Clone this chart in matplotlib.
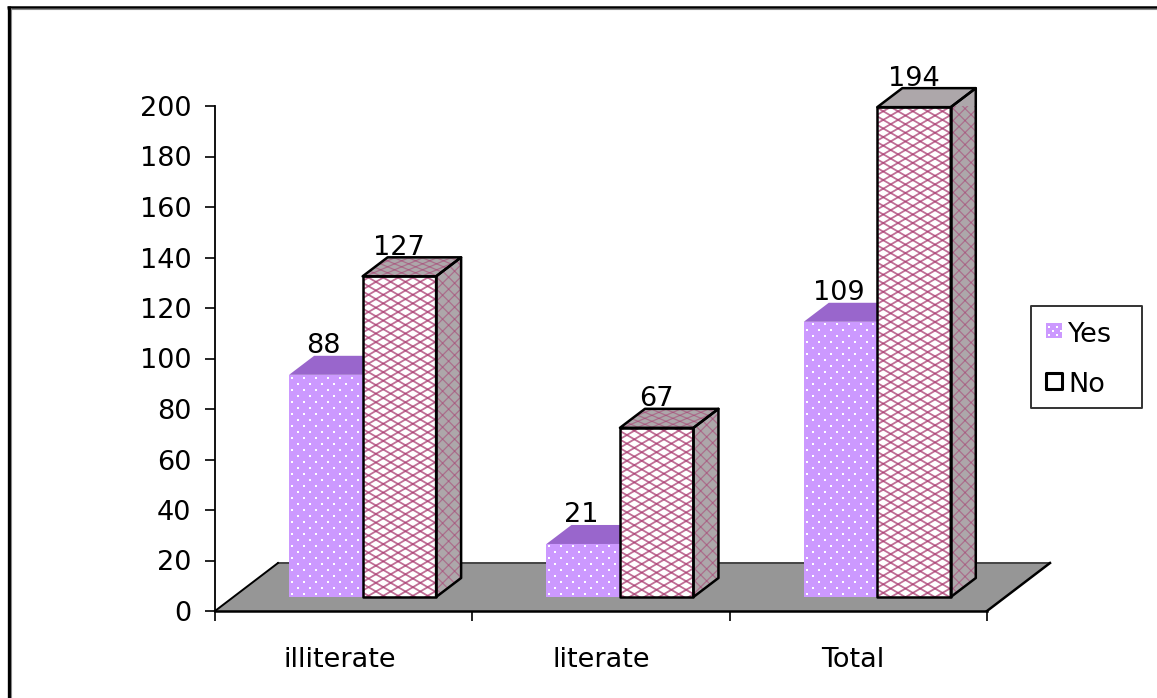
import numpy as np
import matplotlib
matplotlib.use('Agg')
import matplotlib.pyplot as plt
from matplotlib.collections import LineCollection
from matplotlib.lines import Line2D
from matplotlib.patches import Polygon
from matplotlib.transforms import IdentityTransform

plt.rcParams['font.family'] = ['DejaVu Sans']

categories = ['illiterate', 'literate', 'Total']
yes_values = [88, 21, 109]
no_values = [127, 67, 194]
y_ticks = list(range(0, 201, 20))
legend_labels = ['Yes', 'No']

YES_FACE = '#CC99FF'
YES_TOP = '#9966CC'
NO_LINE = '#A8386E'
SHADE = '#ADA7AA'
FLOOR = '#969696'
FONT = 19.5

W, H = 1157, 698
LEFT, RIGHT, TOP, BOTTOM = 215, 987, 106, 611

fig = plt.figure(figsize=(W / 100, H / 100), dpi=100, facecolor='white')
ax = fig.add_axes([LEFT / W, 1 - BOTTOM / H, (RIGHT - LEFT) / W, (BOTTOM - TOP) / H])
ax.set_xlim(0, 3)
ax.set_ylim(0, 200)
ax.patch.set_visible(False)

# size of one pixel in data units, used for the fake 3D depth
px = 3 / (RIGHT - LEFT)
py = 200 / (BOTTOM - TOP)
bar_w = 73.5 * px
bar_off = 0.288
depth_x, depth_y = 25 * px, 19 * py
base = 14 * py


def lattice(poly, dx, dy, color=NO_LINE, lw=1.3, alpha=0.72):
    # diamond mesh, clipped to the polygon
    pts = ax.transData.transform(poly.get_xy())
    x0, x1 = pts[:, 0].min(), pts[:, 0].max()
    y0, y1 = pts[:, 1].min(), pts[:, 1].max()
    slope = dy / dx
    span = (x1 - x0) * slope + (y1 - y0)
    segs = []
    for c in np.arange(-span - 2 * dy, span + 2 * dy, 2 * dy):
        segs.append([(x0, y0 + c), (x1, y0 + c + (x1 - x0) * slope)])
        segs.append([(x0, y1 - c), (x1, y1 - c - (x1 - x0) * slope)])
    lc = LineCollection(segs, colors=color, linewidths=lw, alpha=alpha,
                        transform=IdentityTransform(), zorder=poly.get_zorder() + 0.1)
    ax.add_collection(lc, autolim=False)
    lc.set_clip_path(poly)


def dots(poly, step=12, size=3):
    # staggered white dots, clipped to the polygon
    pts = ax.transData.transform(poly.get_xy())
    x0, x1 = pts[:, 0].min(), pts[:, 0].max()
    y0, y1 = pts[:, 1].min(), pts[:, 1].max()
    xs, ys = [], []
    for r, y in enumerate(np.arange(y0 + 3, y1, step / 2)):
        shift = step / 2 if r % 2 else 0
        for x in np.arange(x0 + 3 + shift, x1, step):
            xs.append(x)
            ys.append(y)
    sc = ax.scatter(xs, ys, s=size, c='white', linewidths=0, marker='s',
                    transform=IdentityTransform(), zorder=poly.get_zorder() + 0.1)
    sc.set_clip_path(poly)


def face(xy, fc, ec='none', lw=1.8, z=3):
    p = Polygon(xy, closed=True, facecolor=fc, edgecolor=ec, linewidth=lw,
                joinstyle='round', clip_on=False, zorder=z)
    ax.add_patch(p)
    return p


def pixel_box(x0, y0, x1, y1):
    # corners of a box given in image pixels, returned in data units
    return [((a - LEFT) * px, (BOTTOM - b) * py) for a, b in [(x0, y0), (x1, y0), (x1, y1), (x0, y1)]]


# floor plane
fx, fy = 63 * px, 48 * py
face([(0, 0), (3, 0), (3 + fx, fy), (fx, fy)], FLOOR, z=1)
ax.plot([fx, 3 + fx], [fy, fy], color='#444444', lw=1.4, clip_on=False, zorder=1.1)
ax.plot([0, fx], [0, fy], color='black', lw=1.4, clip_on=False, zorder=1.1)
ax.plot([3, 3 + fx], [0, fy], color='black', lw=1.8, clip_on=False, zorder=1.1)

for i in range(len(categories)):
    x = i + bar_off
    v = yes_values[i]
    front = face([(x, base), (x + bar_w, base), (x + bar_w, base + v), (x, base + v)], YES_FACE, z=3)
    dots(front)
    face([(x, base + v), (x + bar_w, base + v), (x + bar_w + depth_x, base + v + depth_y),
          (x + depth_x, base + v + depth_y)], YES_TOP, z=2.5)
    ax.text(x + bar_w / 2 - 2 * px, base + v + depth_y + 2.5 * py, str(v), ha='center', va='baseline',
            fontsize=FONT, color='black', zorder=8, clip_on=False)

    x2 = x + bar_w
    v = no_values[i]
    side = face([(x2 + bar_w, base), (x2 + bar_w + depth_x, base + depth_y),
                 (x2 + bar_w + depth_x, base + v + depth_y), (x2 + bar_w, base + v)], SHADE, z=4)
    lattice(side, 6, 6, lw=0.9, alpha=0.5)
    top = face([(x2, base + v), (x2 + bar_w, base + v), (x2 + bar_w + depth_x, base + v + depth_y),
                (x2 + depth_x, base + v + depth_y)], SHADE, z=4)
    lattice(top, 7, 3, lw=0.9, alpha=0.5)
    front = face([(x2, base), (x2 + bar_w, base), (x2 + bar_w, base + v), (x2, base + v)], 'white', z=5)
    lattice(front, 7.4, 4.3)
    # outlines go on top of the mesh
    for verts in (side, top, front):
        face(verts.get_xy(), 'none', ec='black', z=6)
    ax.text(x2 + bar_w / 2, base + v + depth_y + 2.5 * py, str(v), ha='center', va='baseline',
            fontsize=FONT, color='black', zorder=8, clip_on=False)

for s in ('top', 'right'):
    ax.spines[s].set_visible(False)
ax.spines['left'].set_linewidth(1.3)
ax.spines['bottom'].set_linewidth(1.8)
ax.spines['left'].set_zorder(7)
ax.spines['bottom'].set_zorder(7)

ax.set_yticks(y_ticks)
ax.tick_params(axis='y', length=7, width=1.2, labelsize=FONT, pad=10)
ax.set_xticks([0, 1, 2, 3])
ax.set_xticklabels([])
ax.tick_params(axis='x', length=7, width=1.2)
ax.set_xticks([0.485, 1.5, 2.48], minor=True)
ax.set_xticklabels(categories, minor=True)
ax.tick_params(axis='x', which='minor', length=0, labelsize=FONT, pad=26)

# legend box with the two swatches
face(pixel_box(1031, 306, 1142, 408), 'white', ec='#333333', lw=1.4, z=9)
swatch = face(pixel_box(1046, 323, 1062, 338), YES_FACE, z=10)
dots(swatch, step=8, size=3)
swatch = face(pixel_box(1046, 373, 1062, 389), 'white', z=10)
lattice(swatch, 6, 6, lw=1.2, alpha=0.9)
face(swatch.get_xy(), 'none', ec='black', lw=2.2, z=11)
for label, baseline in zip(legend_labels, [342, 392]):
    ax.text((1068 - LEFT) * px, (BOTTOM - baseline) * py, label, ha='left', va='baseline',
            fontsize=FONT, color='black', zorder=12, clip_on=False)

# picture frame, top and left edges only
fig.add_artist(Line2D([7 / W, 1], [1 - 7 / H, 1 - 7 / H], color='black', lw=1.8, solid_capstyle='butt'))
fig.add_artist(Line2D([7 / W, 1], [1 - 8.7 / H, 1 - 8.7 / H], color='#888888', lw=0.8, solid_capstyle='butt'))
fig.add_artist(Line2D([8.5 / W, 8.5 / W], [0, 1 - 6 / H], color='black', lw=2.4, solid_capstyle='butt'))
fig.add_artist(Line2D([10.5 / W, 10.5 / W], [0, 1 - 8 / H], color='#888888', lw=0.8, solid_capstyle='butt'))

fig.savefig('out.png', dpi=100, facecolor='white')
